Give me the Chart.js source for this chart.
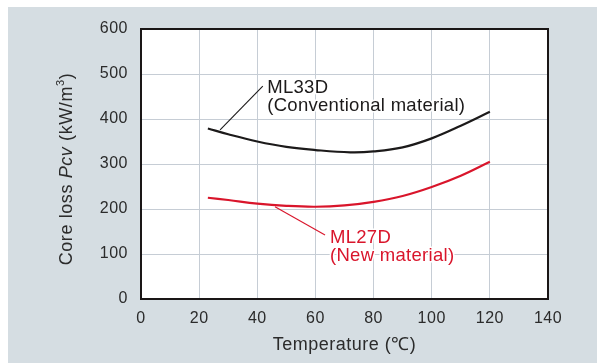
<!DOCTYPE html>
<html>
<head>
<meta charset="utf-8">
<script src="https://cdn.jsdelivr.net/npm/chart.js@4.4.1/dist/chart.umd.min.js"></script>
<style>
  html, body { margin: 0; padding: 0; background: #fff; }
  canvas { display: block; }
</style>
</head>
<body>
<canvas id="lossChart" width="597" height="363"></canvas>
<script>
// Core loss vs temperature
const tempsOld = [23, 30, 40, 50, 60, 72, 80, 90, 100, 110, 120];
const ml33dLoss = [379, 366, 350, 338, 331, 326, 328, 337, 357, 385, 416];

const tempsNew = [23, 30, 40, 50, 60, 70, 80, 90, 100, 110, 120];
const ml27dLoss = [225, 220, 212, 207, 205, 208, 216, 229, 249, 274, 305];

const xTicks = [0, 20, 40, 60, 80, 100, 120, 140];
const yTicks = [0, 100, 200, 300, 400, 500, 600];

// callout leader lines (temperature, loss)
const ml33dLeaderX = [27.2, 41.9];
const ml33dLeaderY = [376, 473];
const ml27dLeaderX = [46.1, 63.3];
const ml27dLeaderY = [205, 142];

// callout texts, anchored at left edge / middle of caps (temperature, loss)
const calloutText = ['ML33D', '(Conventional material)', 'ML27D', '(New material)'];
const calloutX = [43.4, 43.4, 65.0, 65.0];
const calloutY = [472, 433, 140, 100];
const calloutColor = ['#1c1a1a', '#1c1a1a', '#d9152b', '#d9152b'];

const FONT = "'Liberation Sans', Arial, Helvetica, sans-serif";
Chart.defaults.font.family = FONT;
Chart.defaults.color = '#2b2b2b';

const toPoints = (xs, ys) => xs.map((x, i) => ({ x: x, y: ys[i] }));

const decor = {
    id: 'decor',
    beforeDraw(chart) {
        const ctx = chart.ctx;
        ctx.letterSpacing = '0.5px';
        ctx.save();
        ctx.fillStyle = '#fff';
        ctx.fillRect(0, 0, chart.width, chart.height);
        ctx.fillStyle = '#d5dde2';
        ctx.fillRect(8, 7, chart.width - 8, chart.height - 7);
        const a = chart.chartArea;
        ctx.fillStyle = '#fff';
        ctx.fillRect(a.left, a.top, a.right - a.left, a.bottom - a.top);
        ctx.restore();
    },
    beforeDatasetsDraw(chart) {
        const ctx = chart.ctx;
        const a = chart.chartArea;
        ctx.save();
        ctx.strokeStyle = '#1a1616';
        ctx.lineWidth = 2;
        ctx.strokeRect(a.left, a.top, a.right - a.left, a.bottom - a.top);
        ctx.restore();
    },
    afterDatasetsDraw(chart) {
        const ctx = chart.ctx;
        const xs = chart.scales.x, ys = chart.scales.y;

        // callout labels with a white halo over the grid
        ctx.save();
        ctx.font = '18.5px ' + FONT;
        ctx.letterSpacing = '0.3px';
        ctx.textAlign = 'left';
        ctx.textBaseline = 'alphabetic';
        ctx.lineJoin = 'round';
        calloutText.forEach((t, i) => {
            const px = xs.getPixelForValue(calloutX[i]);
            const py = ys.getPixelForValue(calloutY[i]) + 6.6;
            ctx.strokeStyle = '#fff';
            ctx.lineWidth = 3;
            ctx.strokeText(t, px, py);
            ctx.fillStyle = calloutColor[i];
            ctx.fillText(t, px, py);
        });
        ctx.restore();

        // y axis title: Core loss Pcv (kW/m3)
        const parts = [
            { t: 'Core loss ', f: '18px ' + FONT, dy: 0 },
            { t: 'Pcv', f: 'italic 18px ' + FONT, dy: 0 },
            { t: ' (kW/m', f: '18px ' + FONT, dy: 0 },
            { t: '3', f: '11px ' + FONT, dy: -6 },
            { t: ')', f: '18px ' + FONT, dy: 0 }
        ];
        ctx.save();
        ctx.letterSpacing = '0.6px';
        ctx.fillStyle = '#2b2b2b';
        ctx.textBaseline = 'middle';
        ctx.textAlign = 'left';
        let total = 0;
        parts.forEach(p => { ctx.font = p.f; p.w = ctx.measureText(p.t).width; total += p.w; });
        ctx.translate(67, 169);
        ctx.rotate(-Math.PI / 2);
        let cx = -total / 2;
        parts.forEach(p => {
            ctx.font = p.f;
            ctx.fillText(p.t, cx, p.dy);
            cx += p.w;
        });
        ctx.restore();
    }
};

new Chart(document.getElementById('lossChart'), {
    type: 'line',
    data: {
        datasets: [
            {
                label: 'ML33D',
                data: toPoints(tempsOld, ml33dLoss),
                borderColor: '#1c1a1a',
                borderWidth: 2.2,
                pointRadius: 0,
                fill: false,
                tension: 0.4
            },
            {
                label: 'ML27D',
                data: toPoints(tempsNew, ml27dLoss),
                borderColor: '#d9152b',
                borderWidth: 2.2,
                pointRadius: 0,
                fill: false,
                tension: 0.4
            },
            {
                label: 'ML33D callout',
                data: toPoints(ml33dLeaderX, ml33dLeaderY),
                borderColor: '#1c1a1a',
                borderWidth: 1.1,
                pointRadius: 0,
                fill: false
            },
            {
                label: 'ML27D callout',
                data: toPoints(ml27dLeaderX, ml27dLeaderY),
                borderColor: '#d9152b',
                borderWidth: 1.1,
                pointRadius: 0,
                fill: false
            }
        ]
    },
    options: {
        responsive: false,
        animation: false,
        events: [],
        layout: { padding: { left: 0, top: 29, right: 49, bottom: 0 } },
        plugins: {
            legend: { display: false },
            tooltip: { enabled: false }
        },
        scales: {
            x: {
                type: 'linear',
                min: 0,
                max: 140,
                afterBuildTicks: (s) => { s.ticks = xTicks.map(v => ({ value: v })); },
                afterFit: (s) => { s.height = 64; },
                grid: { color: '#c6cdd5', lineWidth: 1, drawTicks: false },
                border: { display: false },
                ticks: { padding: 10, color: '#2b2b2b', font: { size: 16 } },
                title: {
                    display: true,
                    text: 'Temperature (℃)',
                    color: '#2b2b2b',
                    font: { size: 18 },
                    padding: { top: 0, bottom: 7 }
                }
            },
            y: {
                min: 0,
                max: 600,
                afterBuildTicks: (s) => { s.ticks = yTicks.map(v => ({ value: v })); },
                afterFit: (s) => { s.width = 141; },
                grid: { color: '#c6cdd5', lineWidth: 1, drawTicks: false },
                border: { display: false },
                ticks: { padding: 13, color: '#2b2b2b', font: { size: 16 } }
            }
        }
    },
    plugins: [decor]
});
</script>
</body>
</html>
